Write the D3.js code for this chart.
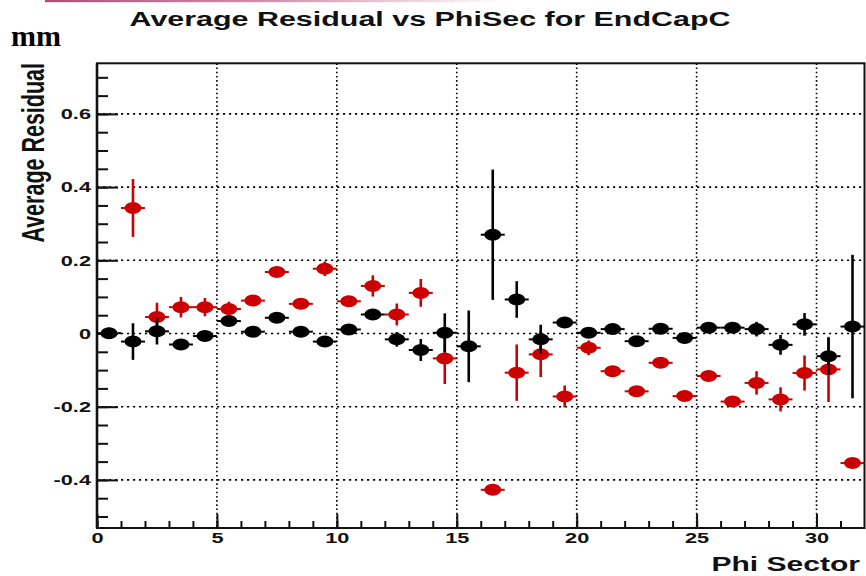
<!DOCTYPE html>
<html>
<head>
<meta charset="utf-8">
<script src="https://cdn.jsdelivr.net/npm/d3@7"></script>
<style>
  html, body { margin: 0; padding: 0; background: #fff; }
  svg { display: block; }
</style>
</head>
<body>
<svg id="chart" width="866" height="576"></svg>
<script>
// ---- data ----
const title = "Average Residual vs PhiSec for EndCapC";
const unitLabel = "mm";
const yTitle = "Average Residual";
const xTitle = "Phi Sector";

const sectors = d3.range(32).map(i => i + 0.5);   // bin centres 0.5 .. 31.5

const blackValues = [0.001, -0.022, 0.006, -0.030, -0.007, 0.034, 0.005, 0.043,
                     0.005, -0.022, 0.011, 0.052, -0.016, -0.045, 0.002, -0.035,
                     0.270, 0.093, -0.016, 0.030, 0.002, 0.012, -0.021, 0.013,
                     -0.012, 0.016, 0.016, 0.012, -0.031, 0.025, -0.062, 0.019];
const blackErrors = [0.015, 0.050, 0.036, 0.012, 0.012, 0.012, 0.012, 0.012,
                     0.012, 0.015, 0.012, 0.012, 0.020, 0.030, 0.053, 0.098,
                     0.178, 0.050, 0.040, 0.012, 0.012, 0.012, 0.012, 0.012,
                     0.012, 0.012, 0.012, 0.020, 0.027, 0.031, 0.050, 0.196];

const redValues = [null, 0.343, 0.045, 0.072, 0.072, 0.067, 0.090, 0.168,
                   0.081, 0.177, 0.088, 0.130, 0.052, 0.111, -0.068, null,
                   -0.427, -0.107, -0.057, -0.172, -0.039, -0.103, -0.158, -0.080,
                   -0.171, -0.116, -0.186, -0.135, -0.180, -0.108, -0.098, -0.354];
const redErrors = [0, 0.079, 0.039, 0.028, 0.025, 0.020, 0.015, 0.012,
                   0.012, 0.020, 0.015, 0.029, 0.030, 0.038, 0.070, 0,
                   0.010, 0.077, 0.062, 0.030, 0.020, 0.012, 0.012, 0.012,
                   0.015, 0.012, 0.015, 0.032, 0.033, 0.048, 0.089, 0.010];

const xMajorTicks = [0, 5, 10, 15, 20, 25, 30];
const xMinorTicks = d3.range(0, 32, 1);
const yMajorTicks = [-0.4, -0.2, 0, 0.2, 0.4, 0.6];
const yTickLabels = ["-0.4", "-0.2", "0", "0.2", "0.4", "0.6"];
const yMinorTicks = d3.range(-0.5, 0.7001, 0.05).map(v => +v.toFixed(2));
const xDomain = [0, 32];
const yDomain = [-0.5314, 0.7383];

// ---- layout ----
const SX = 1.45; // horizontal stretch of the original picture
const SANS = "'Liberation Sans', Arial, Helvetica, sans-serif";
const SERIF = "'Liberation Serif', 'Times New Roman', serif";
const plotLeft = 97, plotRight = 864.5, plotTop = 63.3, plotBottom = 528;

const svg = d3.select("#chart");

const x = d3.scaleLinear().domain(xDomain).range([plotLeft, plotRight]);
const y = d3.scaleLinear().domain(yDomain).range([plotBottom, plotTop]);

// top decorative pink line
const defs = svg.append("defs");
const grad = defs.append("linearGradient").attr("id", "pink").attr("x1", "0").attr("x2", "1");
grad.append("stop").attr("offset", "0").attr("stop-color", "#b44a78");
grad.append("stop").attr("offset", "0.5").attr("stop-color", "#d690ad");
grad.append("stop").attr("offset", "1").attr("stop-color", "#ffffff");
svg.append("rect").attr("x", 45).attr("y", 0).attr("width", 460).attr("height", 2.2)
   .attr("fill", "url(#pink)");

// grid
const grid = svg.append("g").attr("stroke", "#000").attr("fill", "none");
grid.selectAll("line.gx").data(xMajorTicks.filter(v => v > 0)).join("line")
  .attr("class", "gx")
  .attr("x1", d => x(d)).attr("x2", d => x(d))
  .attr("y1", plotTop).attr("y2", plotBottom)
  .attr("stroke-width", 1.6).attr("stroke-dasharray", "1.6,2.6");
grid.selectAll("line.gy").data(yMajorTicks).join("line")
  .attr("class", "gy")
  .attr("x1", plotLeft).attr("x2", plotRight)
  .attr("y1", d => y(d)).attr("y2", d => y(d))
  .attr("stroke-width", 1.6).attr("stroke-dasharray", "2.2,3.8");

// axes
const xMinorAxis = d3.axisBottom(x).tickValues(xMinorTicks).tickSize(-7).tickSizeOuter(0).tickFormat("");
const xMajorAxis = d3.axisBottom(x).tickValues(xMajorTicks).tickSize(-14).tickSizeOuter(0).tickPadding(4)
  .tickFormat(d3.format("d"));
const yMinorAxis = d3.axisLeft(y).tickValues(yMinorTicks).tickSize(-11).tickSizeOuter(0).tickFormat("");
const yMajorAxis = d3.axisLeft(y).tickValues(yMajorTicks).tickSize(-21).tickSizeOuter(0)
  .tickFormat((d, i) => yTickLabels[i]);

function styleAxis(g) {
  g.select(".domain").remove();
  g.selectAll(".tick line").attr("stroke", "#111").attr("stroke-width", 2);
}

svg.append("g").attr("transform", `translate(0,${plotBottom})`).call(xMinorAxis).call(styleAxis);
const gx = svg.append("g").attr("transform", `translate(0,${plotBottom})`).call(xMajorAxis).call(styleAxis);
gx.selectAll(".tick text")
  .attr("font-size", 15).attr("font-weight", "bold").attr("fill", "#111")
  .attr("font-family", SANS)
  .attr("transform", `scale(${SX},1)`);

svg.append("g").attr("transform", `translate(${plotLeft},0)`).call(yMinorAxis).call(styleAxis);
const gy = svg.append("g").attr("transform", `translate(${plotLeft},0)`).call(yMajorAxis).call(styleAxis);
gy.selectAll(".tick text")
  .attr("font-size", 15).attr("font-weight", "bold").attr("fill", "#111")
  .attr("font-family", SANS)
  .attr("x", -6 / SX)
  .attr("transform", `scale(${SX},1)`);

// frame
svg.append("rect").attr("x", plotLeft).attr("y", plotTop)
  .attr("width", plotRight - plotLeft).attr("height", plotBottom - plotTop)
  .attr("fill", "none").attr("stroke", "#111").attr("stroke-width", 2);
svg.append("line").attr("x1", plotLeft).attr("x2", plotLeft).attr("y1", plotTop).attr("y2", plotBottom)
  .attr("stroke", "#111").attr("stroke-width", 2.6);

// data series
function drawSeries(values, errors, color) {
  const pts = sectors.map((s, i) => ({ s, v: values[i], e: errors[i] })).filter(d => d.v !== null);
  const g = svg.append("g");
  g.selectAll("line.ex").data(pts).join("line").attr("class", "ex")
    .attr("x1", d => x(d.s - 0.5)).attr("x2", d => x(d.s + 0.5))
    .attr("y1", d => y(d.v)).attr("y2", d => y(d.v))
    .attr("stroke", color).attr("stroke-width", 2);
  g.selectAll("line.ey").data(pts).join("line").attr("class", "ey")
    .attr("x1", d => x(d.s)).attr("x2", d => x(d.s))
    .attr("y1", d => y(d.v - d.e)).attr("y2", d => y(d.v + d.e))
    .attr("stroke", color).attr("stroke-width", 2.6);
  g.selectAll("ellipse").data(pts).join("ellipse")
    .attr("cx", d => x(d.s)).attr("cy", d => y(d.v))
    .attr("rx", 8.5).attr("ry", 6)
    .attr("fill", color);
}
drawSeries(redValues, redErrors, "#cc0000");
drawSeries(blackValues, blackErrors, "#000000");

// titles
svg.append("text")
  .attr("transform", `translate(430,26) scale(${SX},1)`)
  .attr("text-anchor", "middle").attr("font-size", 21).attr("font-weight", "bold")
  .attr("font-family", SANS).attr("fill", "#111").text(title);

svg.append("text")
  .attr("x", 11).attr("y", 46)
  .style("font-family", SERIF)
  .attr("font-size", 30).attr("font-weight", "bold").attr("fill", "#000")
  .text(unitLabel);

svg.append("text")
  .attr("transform", `translate(44,63) scale(${SX},1) rotate(-90)`)
  .attr("text-anchor", "end").attr("font-size", 21.5).attr("font-weight", "bold")
  .attr("font-family", SANS).attr("fill", "#111").text(yTitle);

svg.append("text")
  .attr("transform", `translate(860,571) scale(1.43,1)`)
  .attr("text-anchor", "end").attr("font-size", 21).attr("font-weight", "bold")
  .attr("font-family", SANS).attr("fill", "#111").text(xTitle);
</script>
</body>
</html>
